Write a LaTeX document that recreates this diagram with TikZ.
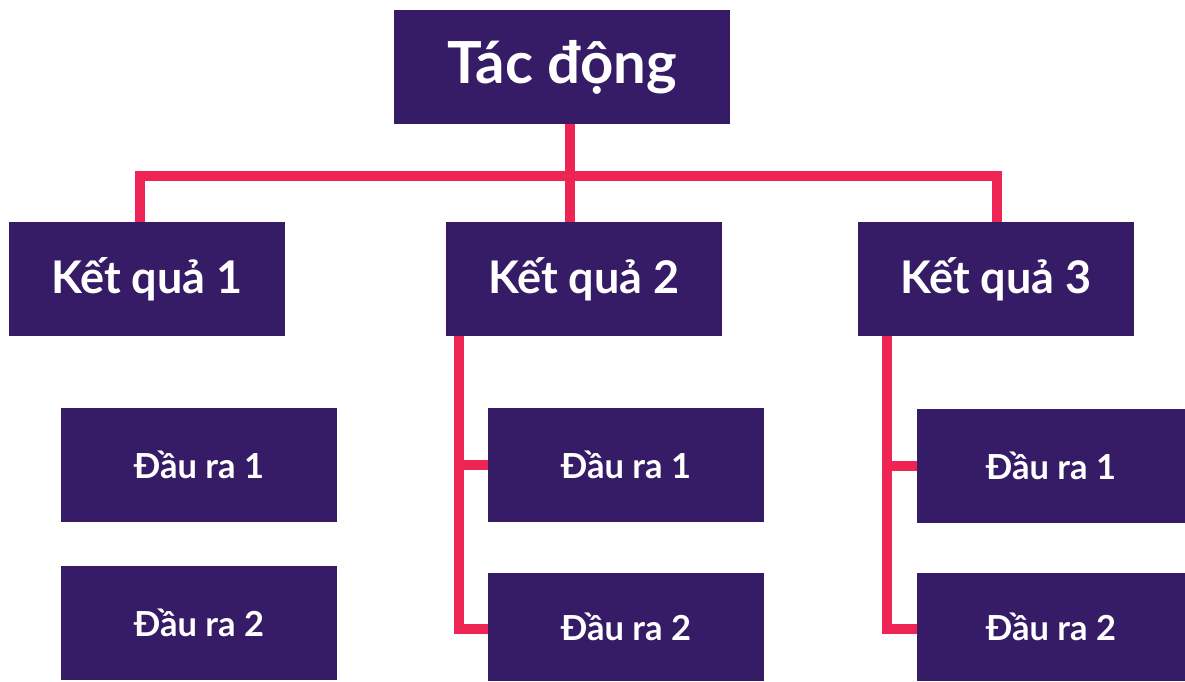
\documentclass[tikz,border=0pt]{standalone}
\usepackage{fontspec}
\setmainfont{Lato}
\usetikzlibrary{positioning}
\definecolor{plum}{RGB}{54,27,102}
\definecolor{rose}{RGB}{238,36,84}
\tikzset{
  box/.style={rectangle, fill=plum, text=white, inner sep=0pt, font=\bfseries},
  big/.style={box, minimum width=336pt, minimum height=114pt, font=\fontsize{58}{60}\selectfont\bfseries},
  mid/.style={box, minimum width=276pt, minimum height=114pt, font=\fontsize{45}{47}\selectfont\bfseries},
  small/.style={box, minimum width=276pt, minimum height=114pt, font=\fontsize{34.5}{36}\selectfont\bfseries},
  link/.style={draw=rose, line width=10pt, line join=miter}
}
\begin{document}
\begin{tikzpicture}[x=1pt, y=-1pt]
\useasboundingbox (0,0) rectangle (1185,681);

\node[big] (tac) at (562,67) {Tác động};

\node[mid] (kq1) at (147,279) {Kết quả 1};
\node[mid] (kq2) at (584,279) {Kết quả 2};
\node[mid] (kq3) at (996,279) {Kết quả 3};

\node[small] (dr11) at (199,465) {Đầu ra 1};
\node[small] (dr12) at (199,623) {Đầu ra 2};
\node[small] (dr21) at (626,465) {Đầu ra 1};
\node[small, minimum height=108pt] (dr22) at (626,627) {Đầu ra 2};
\node[small, minimum width=268pt] (dr31) at (1051,466) {Đầu ra 1};
\node[small, minimum width=268pt, minimum height=108pt] (dr32) at (1051,627) {Đầu ra 2};

% bus line under the top box
\coordinate (bus) at (570,176);
\draw[link] ([xshift=8pt]tac.south) -- ([xshift=-14pt]kq2.north);
\draw[link] ([xshift=-7pt]kq1.north) |- (bus);
\draw[link] ([xshift=1pt]kq3.north) |- (bus);

% outputs
\draw[link] ([xshift=13pt]kq2.south west) |- ([yshift=-2pt]dr22.west);
\draw[link] ([xshift=13pt]kq2.south west) |- (dr21.west);
\draw[link] ([xshift=29pt]kq3.south west) |- ([yshift=-2pt]dr32.west);
\draw[link] ([xshift=29pt]kq3.south west) |- (dr31.west);
\end{tikzpicture}
\end{document}
